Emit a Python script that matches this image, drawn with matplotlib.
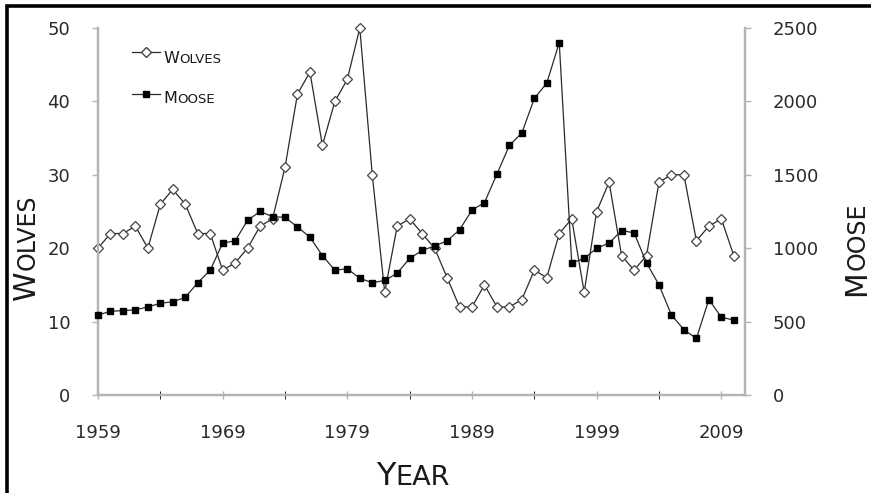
"""Isle Royale wolves and moose, 1959-2010, on twin y axes."""
import numpy as np
import matplotlib
matplotlib.use("Agg")
import matplotlib.pyplot as plt
from matplotlib.lines import Line2D
from matplotlib.patches import Rectangle
from matplotlib.ticker import MultipleLocator

years = np.arange(1959, 2011)
wolves = [20, 22, 22, 23, 20, 26, 28, 26, 22, 22,
          17, 18, 20, 23, 24, 31, 41, 44, 34, 40,
          43, 50, 30, 14, 23, 24, 22, 20, 16, 12,
          12, 15, 12, 12, 13, 17, 16, 22, 24, 14,
          25, 29, 19, 17, 19, 29, 30, 30, 21, 23,
          24, 19]
moose = [545, 570, 575, 580, 600, 625, 635, 665, 765, 850,
         1035, 1050, 1190, 1250, 1215, 1210, 1145, 1075, 950, 850,
         860, 795, 765, 780, 830, 930, 985, 1015, 1050, 1125,
         1260, 1310, 1505, 1700, 1785, 2020, 2125, 2400, 900, 930,
         1000, 1035, 1120, 1105, 900, 750, 545, 445, 385, 650,
         530, 510]
year_ticks = [1959, 1969, 1979, 1989, 1999, 2009]

W, H = 871, 493
SPINE = "#b4b4b4"
INK = "#2a2a2a"

plt.rcParams["font.family"] = ["DejaVu Sans"]
fig = plt.figure(figsize=(W / 100, H / 100), dpi=100)
ax = fig.add_axes([98 / W, 1 - 395 / H, (745 - 98) / W, (395 - 28) / H])
ax2 = ax.twinx()

ax.plot(years, wolves, color=INK, lw=0.9, marker="D", ms=4.7,
        mfc="white", mec="#444444", mew=0.9, zorder=3, clip_on=False)
ax2.plot(years, moose, color=INK, lw=0.9, marker="s", ms=4.5,
         mfc="black", mec="black", zorder=3, clip_on=False)

ax.set_xlim(1959, 2010.9)
ax.set_ylim(0, 50)
ax2.set_ylim(0, 2500)
ax.set_xticks(year_ticks)
ax.set_xticks([y + 5 for y in year_ticks[:-1]], minor=True)
ax.yaxis.set_major_locator(MultipleLocator(10))
ax2.yaxis.set_major_locator(MultipleLocator(500))

for a in (ax, ax2):
    for side in a.spines:
        a.spines[side].set_color(SPINE)
        a.spines[side].set_linewidth(1.6)
    a.spines["top"].set_visible(False)
    a.tick_params(colors=SPINE, labelcolor=INK, labelsize=13, width=1, length=4)
ax.tick_params(axis="x", which="both", direction="inout", length=6, pad=18)
ax.tick_params(axis="y", pad=16)
ax2.tick_params(axis="y", pad=16)

legend = ax2.legend(
    handles=[Line2D([], [], color=INK, lw=0.9, marker="D", ms=4.7,
                    mfc="white", mec="#444444"),
             Line2D([], [], color=INK, lw=0.9, marker="s", ms=4.5,
                    mfc="black", mec="black")],
    labels=["", ""], loc="upper left", frameon=False, fontsize=12,
    handlelength=1.7, labelspacing=1.45, borderpad=0, borderaxespad=0,
    bbox_to_anchor=(132 / W, 1 - 44 / H), bbox_transform=fig.transFigure)

# frame round the picture (its right and bottom edges fall outside)
fig.add_artist(Rectangle((7 / W, -0.5), 2, 1.5 - 6 / H, transform=fig.transFigure,
                         fill=False, lw=2.6, ec="black"))

renderer = fig.canvas.get_renderer()


def smallcaps(x, y, word, big, small, rotation=0):
    """Draw word with a large first letter and smaller capitals after it."""
    kw = dict(rotation=rotation, rotation_mode="anchor", ha="left",
              va="baseline", color="#1a1a1a")
    first = fig.text(x / W, 1 - y / H, word[0], size=big, **kw)
    bb = first.get_window_extent(renderer)
    if rotation == 0:
        x2, y2 = x + bb.width, y
    else:
        x2, y2 = x, y - bb.height
    fig.text(x2 / W, 1 - y2 / H, word[1:], size=small, **kw)


smallcaps(163, 63, "WOLVES", 11.5, 9.5)
smallcaps(163, 103, "MOOSE", 11.5, 9.5)
smallcaps(376, 485, "YEAR", 23, 19.5)
smallcaps(35, 300, "WOLVES", 21.5, 17, rotation=90)
smallcaps(865, 296, "MOOSE", 21.5, 17, rotation=90)

fig.savefig("out.png", dpi=100)
